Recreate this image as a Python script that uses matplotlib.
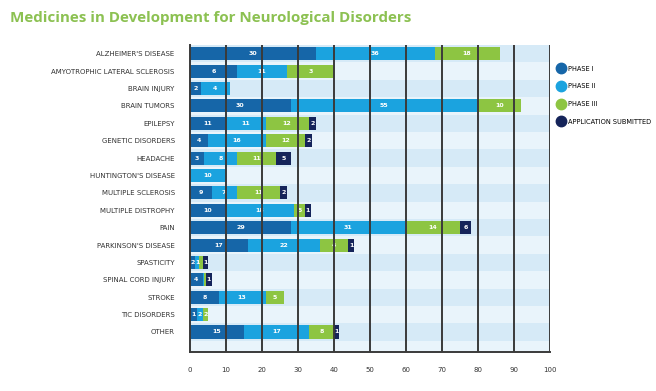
import matplotlib.pyplot as plt
from matplotlib.lines import Line2D

plt.rcParams['font.family'] = ['Liberation Sans Narrow', 'DejaVu Sans']

# data (bar lengths) plus the numbers printed on the bars
diseases = ["ALZHEIMER'S DISEASE", "AMYOTROPHIC LATERAL SCLEROSIS", "BRAIN INJURY",
            "BRAIN TUMORS", "EPILEPSY", "GENETIC DISORDERS", "HEADACHE",
            "HUNTINGTON'S DISEASE", "MULTIPLE SCLEROSIS", "MULTIPLE DISTROPHY", "PAIN",
            "PARKINSON'S DISEASE", "SPASTICITY", "SPINAL CORD INJURY", "STROKE",
            "TIC DISORDERS", "OTHER"]
phase1 = [35, 13, 3, 28, 10, 5, 4, 0, 6, 10, 28, 16, 1.5, 3.5, 8, 2, 15]
phase2 = [33, 14, 8, 52, 11, 16, 9, 10, 7, 19, 32, 20, 1, 0.5, 13, 1.5, 18]
phase3 = [18, 13, 0, 12, 12, 11, 11, 0, 12, 3, 15, 8, 1, 0.5, 5, 1.5, 7]
submitted = [0, 0, 0, 0, 2, 2, 4, 0, 2, 1.5, 3, 1.5, 1.5, 1.5, 0, 0, 1.5]

phase1_lbl = ['30', '6', '2', '30', '11', '4', '3', '', '9', '10', '29', '17', '2', '4', '8', '1', '15']
phase2_lbl = ['36', '11', '4', '55', '11', '16', '8', '10', '7', '18', '31', '22', '1', '', '13', '2', '17']
phase3_lbl = ['18', '3', '', '10', '12', '12', '11', '', '11', '5', '14', '4', '', '', '5', '2', '8']
sub_lbl = ['', '', '', '', '2', '2', '5', '', '2', '1', '6', '1', '1', '1', '', '', '1']

series = [
    ('PHASE I', phase1, phase1_lbl, '#1666a8'),
    ('PHASE II', phase2, phase2_lbl, '#1ba3df'),
    ('PHASE III', phase3, phase3_lbl, '#8dc542'),
    ('APPLICATION SUBMITTED', submitted, sub_lbl, '#15245a'),
]

fig = plt.figure(figsize=(6.56, 3.91), dpi=100)
ax = fig.add_axes([0.2896, 0.0998, 0.5488, 0.785])
ax.set_facecolor('#e9f4fb')

y = list(range(len(diseases)))
for i in range(0, len(diseases) + 1, 2):
    ax.axhspan(i - 0.5, i + 0.5, color='#d6eaf7', zorder=0, lw=0)

left = [0] * len(diseases)
for name, vals, lbls, col in series:
    ax.barh(y, vals, left=left, height=0.75, color=col, zorder=2, label=name)
    for yi, v, l, t in zip(y, vals, left, lbls):
        if t and v > 0:
            ax.text(l + v / 2, yi, t, ha='center', va='center', color='white',
                    fontsize=4.5, fontweight='bold', zorder=3)
    left = [a + b for a, b in zip(left, vals)]

for xv in range(10, 101, 10):
    ax.axvline(xv, color='#3a3a3a', lw=1.4, zorder=4)

ax.set_xlim(0, 100)
ax.set_ylim(17.15, -0.5)
ax.set_xticks(range(0, 101, 10))
ax.set_yticks(y)
ax.set_yticklabels(diseases)
ax.tick_params(length=0, labelsize=5, colors='#333333')
ax.tick_params(axis='x', pad=11)
ax.tick_params(axis='y', pad=11)
for s in ['top', 'right']:
    ax.spines[s].set_visible(False)
for s in ['left', 'bottom']:
    ax.spines[s].set_color('#3a3a3a')
    ax.spines[s].set_linewidth(1.4)

handles = [Line2D([], [], marker='o', ls='', markersize=7.5, color=c) for _, _, _, c in series]
fig.legend(handles, [s[0] for s in series], loc='upper left',
           bbox_to_anchor=(0.84, 0.847), frameon=False, fontsize=4.8,
           labelspacing=1.75, handletextpad=0.5, handlelength=1.2)

fig.text(0.015, 0.955, 'Medicines in Development for Neurological Disorders',
         color='#8cc152', fontsize=10.9, fontweight='bold', family='Open Sans',
         va='center')

fig.savefig('out.png', dpi=100)
